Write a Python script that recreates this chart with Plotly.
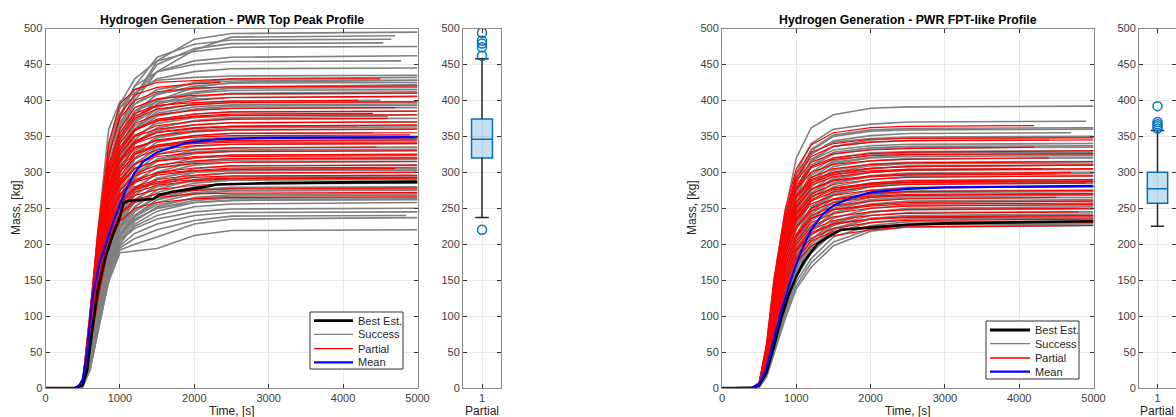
import plotly.graph_objects as go

W, H = 1176, 417
FONT = "Liberation Sans, Arial, sans-serif"

# ---------------- shared time grid for the individual runs ----------------
T = [0, 400, 500, 600, 700, 850, 1000, 1200, 1500, 2000, 2500, 5000]

# ---------------- Panel 1: PWR Top Peak Profile ----------------
P1_SUCCESS = [
    [0, 0, 6, 80, 190, 330, 390, 405, 455, 485, 493, 495],
    [0, 0, 8, 100, 215, 360, 398, 410, 440, 470, 488, 490],
    [0, 0, 5, 70, 170, 300, 380, 420, 460, 478, 484, 485],
    [0, 0, 4, 60, 150, 280, 360, 405, 450, 472, 479, 480],
    [0, 0, 7, 90, 200, 340, 395, 430, 455, 468, 474, 475],
    [0, 0, 3, 55, 140, 270, 345, 400, 440, 455, 460, 462],
    [0, 0, 5, 75, 170, 300, 375, 420, 440, 450, 454, 455],
    [0, 0, 4, 65, 160, 290, 365, 410, 430, 440, 444, 445],
    [0, 0, 6, 85, 185, 320, 390, 415, 428, 432, 434, 435],
    [0, 0, 3, 50, 130, 250, 330, 380, 410, 425, 430, 432],
    [0, 0, 5, 70, 165, 295, 360, 395, 415, 424, 427, 428],
    [0, 0, 4, 60, 150, 270, 340, 385, 408, 420, 424, 425],
    [0, 0, 7, 90, 190, 310, 370, 395, 410, 416, 419, 420],
    [0, 0, 3, 45, 120, 240, 315, 370, 400, 412, 417, 418],
    [0, 0, 5, 65, 155, 280, 345, 385, 402, 410, 414, 415],
    [0, 0, 4, 55, 140, 255, 325, 370, 395, 405, 409, 410],
    [0, 0, 6, 80, 175, 295, 355, 385, 398, 402, 404, 405],
    [0, 0, 3, 48, 125, 235, 310, 360, 385, 396, 399, 400],
    [0, 0, 5, 68, 150, 265, 330, 370, 388, 394, 397, 398],
    [0, 0, 4, 58, 138, 245, 315, 360, 382, 391, 394, 395],
    [0, 0, 6, 75, 160, 275, 330, 365, 380, 387, 389, 390],
    [0, 0, 3, 50, 128, 230, 300, 345, 372, 381, 384, 385],
    [0, 0, 5, 62, 145, 250, 310, 350, 368, 376, 379, 380],
    [0, 0, 4, 55, 132, 235, 300, 340, 362, 371, 374, 375],
    [0, 0, 6, 72, 155, 255, 305, 340, 358, 366, 369, 370],
    [0, 0, 3, 45, 118, 215, 280, 325, 350, 361, 364, 365],
    [0, 0, 5, 60, 140, 235, 290, 330, 348, 356, 359, 360],
    [0, 0, 4, 52, 125, 220, 280, 320, 342, 351, 354, 355],
    [0, 0, 3, 42, 110, 205, 265, 310, 335, 346, 349, 350],
    [0, 0, 5, 58, 132, 225, 275, 312, 332, 341, 344, 345],
    [0, 0, 4, 48, 118, 210, 262, 300, 325, 336, 339, 340],
    [0, 0, 3, 40, 105, 195, 250, 292, 318, 331, 334, 335],
    [0, 0, 5, 55, 125, 210, 258, 295, 315, 326, 329, 330],
    [0, 0, 4, 45, 112, 200, 248, 285, 308, 320, 324, 325],
    [0, 0, 3, 38, 100, 185, 238, 275, 300, 315, 319, 320],
    [0, 0, 5, 52, 118, 200, 245, 278, 298, 310, 314, 315],
    [0, 0, 4, 42, 105, 190, 235, 268, 290, 305, 309, 310],
    [0, 0, 3, 36, 95, 178, 226, 260, 284, 300, 304, 305],
    [0, 0, 4, 46, 108, 188, 232, 262, 282, 295, 299, 300],
    [0, 0, 3, 38, 98, 178, 222, 252, 276, 290, 294, 295],
    [0, 0, 4, 44, 104, 184, 225, 252, 272, 285, 289, 290],
    [0, 0, 3, 35, 92, 170, 215, 245, 266, 280, 284, 285],
    [0, 0, 2, 30, 85, 165, 212, 240, 262, 276, 279, 280],
    [0, 0, 3, 36, 94, 172, 215, 240, 258, 270, 274, 275],
    [0, 0, 2, 28, 80, 160, 205, 232, 252, 265, 269, 270],
    [0, 0, 3, 34, 90, 165, 210, 235, 250, 261, 264, 265],
    [0, 0, 2, 26, 78, 155, 200, 228, 246, 258, 261, 262],
    [0, 0, 2, 30, 84, 160, 205, 225, 240, 252, 256, 258],
    [0, 0, 3, 32, 88, 165, 205, 222, 235, 245, 249, 250],
    [0, 0, 2, 28, 80, 155, 198, 215, 228, 240, 244, 245],
    [0, 0, 2, 25, 75, 150, 195, 208, 220, 233, 239, 240],
    [0, 0, 3, 30, 82, 152, 192, 200, 210, 228, 235, 237],
    [0, 0, 2, 26, 78, 148, 188, 190, 194, 212, 219, 220],
    [0, 0, 4, 55, 135, 250, 320, 375, 400, 418, 425, 428],
    [0, 0, 3, 48, 125, 240, 310, 360, 390, 405, 410, 412],
    [0, 0, 5, 62, 145, 260, 320, 358, 378, 388, 392, 393],
    [0, 0, 4, 52, 130, 240, 300, 340, 362, 372, 376, 378],
    [0, 0, 3, 44, 115, 222, 285, 325, 348, 358, 362, 363],
    [0, 0, 4, 50, 122, 225, 280, 318, 336, 344, 347, 348],
    [0, 0, 3, 40, 108, 205, 260, 298, 318, 328, 331, 332],
    [0, 0, 4, 46, 112, 205, 255, 288, 306, 314, 317, 318],
    [0, 0, 3, 36, 98, 188, 240, 272, 292, 300, 302, 303],
    [0, 0, 3, 38, 100, 185, 232, 262, 280, 288, 290, 292],
    [0, 0, 2, 32, 90, 172, 220, 248, 266, 275, 278, 279],
    [0, 0, 2, 30, 86, 165, 212, 238, 255, 264, 267, 268],
    [0, 0, 3, 34, 92, 170, 212, 235, 250, 258, 261, 263],
    [0, 0, 2, 28, 82, 160, 208, 240, 262, 272, 275, 276],
    [0, 0, 5, 66, 150, 265, 330, 372, 395, 410, 418, 422],
]
P1_SUCCESS_END = {1: 4700, 2: 4650, 3: 4540, 6: 4780, 17: 4500, 27: 4400, 50: 4850, 56: 4600}

P1_PARTIAL = [
    [0, 0, 8, 105, 215, 340, 395, 415, 425, 428, 430, 430],
    [0, 0, 7, 95, 200, 320, 380, 408, 418, 423, 425, 425],
    [0, 0, 9, 110, 210, 325, 375, 400, 412, 417, 419, 420],
    [0, 0, 6, 88, 190, 305, 360, 390, 402, 407, 409, 410],
    [0, 0, 8, 100, 200, 310, 355, 382, 393, 397, 399, 400],
    [0, 0, 6, 85, 180, 290, 345, 375, 388, 394, 397, 398],
    [0, 0, 7, 92, 188, 295, 340, 368, 380, 386, 389, 390],
    [0, 0, 5, 80, 172, 280, 330, 360, 374, 381, 384, 385],
    [0, 0, 8, 98, 190, 290, 335, 360, 371, 377, 379, 380],
    [0, 0, 6, 85, 175, 280, 325, 352, 365, 371, 374, 375],
    [0, 0, 7, 90, 180, 282, 325, 350, 360, 366, 369, 370],
    [0, 0, 5, 78, 165, 268, 315, 342, 355, 361, 364, 365],
    [0, 0, 7, 88, 175, 275, 318, 340, 351, 357, 359, 360],
    [0, 0, 6, 82, 168, 265, 308, 333, 345, 351, 354, 355],
    [0, 0, 8, 95, 180, 275, 315, 335, 344, 349, 351, 352],
    [0, 0, 5, 76, 160, 255, 300, 325, 338, 345, 347, 348],
    [0, 0, 7, 86, 170, 265, 305, 328, 338, 342, 344, 345],
    [0, 0, 6, 80, 162, 255, 295, 320, 331, 337, 339, 340],
    [0, 0, 5, 72, 152, 245, 288, 312, 325, 332, 334, 335],
    [0, 0, 7, 84, 165, 252, 290, 312, 322, 327, 329, 330],
    [0, 0, 6, 76, 155, 242, 282, 305, 316, 322, 324, 325],
    [0, 0, 5, 70, 148, 235, 275, 298, 310, 316, 319, 320],
    [0, 0, 6, 78, 155, 238, 275, 295, 306, 312, 314, 315],
    [0, 0, 5, 68, 142, 228, 266, 288, 300, 306, 309, 310],
    [0, 0, 7, 80, 155, 235, 268, 286, 296, 302, 304, 305],
    [0, 0, 5, 66, 138, 220, 258, 280, 290, 296, 299, 300],
    [0, 0, 6, 72, 145, 225, 260, 278, 287, 293, 295, 296],
    [0, 0, 4, 62, 132, 212, 250, 272, 282, 288, 291, 292],
    [0, 0, 5, 66, 136, 215, 250, 268, 276, 282, 284, 285],
    [0, 0, 4, 58, 125, 205, 242, 262, 270, 275, 277, 278],
    [0, 0, 5, 62, 130, 208, 242, 258, 265, 270, 271, 272],
    [0, 0, 4, 55, 120, 198, 232, 250, 258, 263, 265, 266],
    [0, 0, 7, 92, 190, 300, 350, 378, 392, 400, 404, 406],
    [0, 0, 6, 84, 175, 280, 330, 358, 372, 378, 381, 382],
    [0, 0, 7, 86, 172, 272, 318, 344, 356, 362, 364, 366],
    [0, 0, 6, 80, 162, 258, 300, 325, 336, 340, 342, 342],
    [0, 0, 6, 76, 155, 246, 285, 306, 316, 320, 322, 323],
    [0, 0, 5, 70, 145, 232, 270, 290, 299, 303, 306, 307],
    [0, 0, 5, 64, 135, 216, 255, 276, 285, 290, 292, 293],
]
P1_PARTIAL_END = {0: 4500, 1: 2350, 4: 4200, 6: 4700, 9: 4600, 11: 4200, 14: 4900, 18: 4450, 24: 4700, 33: 4400}

P1_BEST_T = [0, 400, 500, 560, 620, 700, 800, 900, 1000, 1050, 1100, 1450, 1520, 1700, 2100, 2300, 3000, 4000, 5000]
P1_BEST_V = [0, 0, 4, 25, 75, 135, 180, 212, 238, 257, 260, 263, 268, 273, 279, 283, 285, 286, 287]

P1_MEAN_T = [0, 400, 450, 500, 560, 630, 720, 810, 900, 1000, 1100, 1200, 1314, 1500, 1900, 2300, 3000, 5000]
P1_MEAN_V = [0, 0, 3, 12, 50, 125, 172, 200, 228, 255, 280, 300, 315, 328, 341, 346, 348, 349]

P1_BOX = dict(q1=320, median=346, q3=374, low=237, high=458)
P1_OUTLIERS = [220, 462, 474, 479, 483, 494]

# ---------------- Panel 2: PWR FPT-like Profile ----------------
P2_SUCCESS = [
    [0, 0, 6, 60, 150, 245, 320, 362, 380, 389, 391, 392],
    [0, 0, 5, 52, 135, 235, 300, 340, 360, 367, 370, 371],
    [0, 0, 5, 50, 130, 228, 292, 332, 352, 359, 361, 362],
    [0, 0, 4, 46, 120, 220, 285, 325, 344, 351, 354, 355],
    [0, 0, 5, 48, 125, 222, 285, 326, 342, 347, 349, 350],
    [0, 0, 4, 44, 115, 212, 276, 318, 336, 342, 344, 345],
    [0, 0, 5, 46, 118, 214, 276, 316, 331, 337, 339, 340],
    [0, 0, 4, 42, 110, 204, 266, 308, 325, 332, 334, 335],
    [0, 0, 3, 38, 102, 195, 258, 300, 320, 327, 329, 330],
    [0, 0, 4, 40, 105, 196, 255, 296, 314, 321, 324, 325],
    [0, 0, 3, 35, 96, 185, 245, 288, 308, 316, 319, 320],
    [0, 0, 4, 38, 100, 188, 245, 284, 303, 311, 314, 315],
    [0, 0, 3, 33, 92, 176, 235, 275, 296, 305, 309, 310],
    [0, 0, 4, 36, 95, 178, 233, 271, 292, 300, 304, 305],
    [0, 0, 3, 31, 88, 168, 224, 264, 285, 295, 299, 300],
    [0, 0, 3, 33, 90, 168, 222, 260, 280, 290, 294, 295],
    [0, 0, 2, 29, 82, 160, 212, 252, 274, 285, 289, 290],
    [0, 0, 3, 31, 84, 160, 210, 248, 270, 280, 284, 285],
    [0, 0, 2, 27, 78, 152, 204, 242, 263, 275, 279, 280],
    [0, 0, 3, 30, 80, 152, 200, 238, 259, 270, 274, 275],
    [0, 0, 2, 26, 75, 146, 194, 232, 253, 265, 269, 270],
    [0, 0, 2, 28, 76, 143, 190, 226, 248, 260, 264, 265],
    [0, 0, 2, 25, 70, 136, 182, 218, 242, 255, 259, 260],
    [0, 0, 2, 26, 72, 134, 178, 212, 236, 250, 254, 255],
    [0, 0, 2, 23, 66, 128, 172, 205, 230, 245, 249, 250],
    [0, 0, 2, 24, 68, 125, 168, 200, 226, 240, 244, 245],
    [0, 0, 2, 21, 62, 118, 160, 193, 220, 235, 239, 240],
    [0, 0, 2, 22, 62, 115, 155, 188, 216, 230, 235, 236],
    [0, 0, 1, 19, 56, 108, 148, 180, 210, 226, 231, 232],
    [0, 0, 1, 17, 52, 102, 142, 174, 203, 221, 227, 228],
    [0, 0, 1, 15, 48, 96, 138, 168, 198, 218, 224, 226],
    [0, 0, 5, 50, 128, 224, 290, 330, 350, 357, 359, 360],
    [0, 0, 3, 36, 98, 190, 250, 292, 312, 320, 322, 323],
    [0, 0, 3, 32, 90, 172, 228, 268, 290, 300, 303, 304],
    [0, 0, 2, 28, 80, 155, 205, 245, 268, 280, 284, 286],
    [0, 0, 2, 24, 70, 140, 188, 225, 250, 262, 266, 268],
    [0, 0, 2, 22, 64, 124, 166, 200, 228, 244, 250, 252],
    [0, 0, 4, 42, 112, 205, 268, 310, 328, 334, 336, 337],
    [0, 0, 3, 38, 104, 196, 256, 296, 316, 324, 327, 328],
    [0, 0, 3, 34, 94, 182, 240, 280, 300, 309, 312, 313],
    [0, 0, 3, 32, 90, 170, 226, 265, 285, 294, 297, 298],
    [0, 0, 2, 28, 82, 158, 210, 250, 272, 282, 286, 288],
    [0, 0, 2, 26, 76, 148, 196, 235, 258, 268, 272, 273],
    [0, 0, 2, 24, 70, 138, 184, 220, 244, 256, 260, 262],
    [0, 0, 2, 22, 65, 128, 172, 206, 232, 245, 248, 249],
    [0, 0, 1, 20, 60, 120, 162, 196, 222, 236, 240, 242],
    [0, 0, 4, 44, 116, 210, 272, 316, 336, 345, 348, 349],
]
P2_SUCCESS_END = {1: 4900, 3: 4700, 5: 4400, 13: 4600, 24: 4800, 40: 4500}

P2_PARTIAL = [
    [0, 0, 8, 62, 152, 248, 305, 338, 355, 362, 364, 365],
    [0, 0, 7, 58, 145, 240, 298, 328, 340, 346, 347, 348],
    [0, 0, 6, 55, 140, 235, 292, 322, 336, 342, 344, 345],
    [0, 0, 7, 56, 140, 232, 288, 314, 326, 331, 333, 335],
    [0, 0, 6, 52, 134, 226, 282, 308, 320, 326, 328, 330],
    [0, 0, 7, 54, 134, 222, 276, 300, 311, 316, 318, 320],
    [0, 0, 5, 48, 126, 214, 268, 293, 305, 311, 313, 315],
    [0, 0, 6, 50, 128, 212, 264, 288, 299, 305, 308, 310],
    [0, 0, 5, 46, 122, 206, 258, 282, 294, 300, 303, 305],
    [0, 0, 6, 48, 122, 204, 253, 277, 289, 295, 298, 300],
    [0, 0, 5, 44, 115, 196, 245, 270, 283, 290, 293, 295],
    [0, 0, 6, 46, 118, 196, 242, 266, 278, 285, 288, 290],
    [0, 0, 4, 40, 108, 186, 234, 260, 273, 280, 283, 285],
    [0, 0, 5, 42, 110, 186, 232, 256, 268, 275, 278, 280],
    [0, 0, 4, 38, 104, 178, 224, 250, 263, 270, 273, 275],
    [0, 0, 5, 40, 106, 178, 222, 246, 258, 265, 268, 270],
    [0, 0, 4, 36, 98, 170, 214, 240, 253, 260, 263, 265],
    [0, 0, 5, 38, 100, 170, 212, 236, 248, 255, 258, 260],
    [0, 0, 4, 34, 92, 162, 204, 230, 243, 250, 253, 255],
    [0, 0, 4, 35, 94, 160, 200, 225, 238, 245, 248, 250],
    [0, 0, 3, 32, 88, 154, 194, 220, 233, 240, 243, 245],
    [0, 0, 4, 33, 88, 152, 190, 214, 228, 235, 238, 240],
    [0, 0, 3, 30, 82, 146, 184, 208, 222, 230, 233, 235],
    [0, 0, 3, 29, 80, 142, 180, 204, 218, 225, 228, 230],
    [0, 0, 3, 27, 76, 136, 174, 198, 212, 220, 224, 226],
    [0, 0, 6, 50, 130, 215, 266, 290, 300, 306, 308, 310],
    [0, 0, 5, 45, 118, 200, 250, 276, 288, 294, 296, 298],
    [0, 0, 4, 40, 108, 188, 236, 262, 276, 283, 286, 288],
    [0, 0, 6, 50, 128, 222, 278, 306, 318, 323, 325, 326],
    [0, 0, 5, 46, 120, 206, 258, 285, 297, 302, 304, 305],
    [0, 0, 5, 42, 112, 192, 240, 266, 278, 284, 286, 287],
    [0, 0, 4, 38, 104, 178, 224, 250, 262, 267, 269, 270],
    [0, 0, 4, 34, 96, 168, 210, 236, 248, 253, 256, 257],
    [0, 0, 3, 30, 86, 152, 192, 216, 229, 235, 237, 238],
]
P2_PARTIAL_END = {0: 4200, 3: 4200, 5: 4400, 9: 4700, 12: 4900, 16: 4500, 20: 4800, 29: 4300}

P2_BEST_T = [0, 400, 500, 600, 700, 800, 900, 1000, 1100, 1280, 1450, 1600, 2000, 2500, 3000, 4000, 5000]
P2_BEST_V = [0, 0, 4, 22, 58, 98, 130, 155, 175, 200, 212, 220, 223, 227, 229, 231, 232]

P2_MEAN_T = [0, 400, 500, 600, 700, 800, 900, 1000, 1100, 1200, 1350, 1500, 1750, 2000, 2500, 3000, 5000]
P2_MEAN_V = [0, 0, 5, 28, 68, 108, 142, 172, 198, 220, 241, 254, 265, 272, 277, 279, 281]

P2_BOX = dict(q1=257, median=277, q3=300, low=225, high=358)
P2_OUTLIERS = [361, 364, 367, 370, 392]

TITLES = ["Hydrogen Generation - PWR Top Peak Profile", "Hydrogen Generation - PWR FPT-like Profile"]
LEGEND_LABELS = ["Best Est.", "Success", "Partial", "Mean"]
X_TICKS = [0, 1000, 2000, 3000, 4000, 5000]
Y_TICKS = list(range(0, 501, 50))

GRAY, RED, BLACK, BLUE = "#808080", "#ff0000", "#000000", "#0000ff"
BOX_BLUE = "#0072BD"
LEG_STYLE = {"Best Est.": (BLACK, 2.8), "Success": (GRAY, 1.3), "Partial": (RED, 1.3), "Mean": (BLUE, 2.2)}


def px_x(p):
    return p / W


def px_y(p):
    return (H - p) / H


def join_curves(curves, ends):
    xs, ys = [], []
    for i, vals in enumerate(curves):
        end = ends.get(i, 5000)
        for t, v in zip(T, vals):
            if t < end:
                xs.append(t)
                ys.append(v)
        xs.append(end)
        ys.append(vals[-1])
        xs.append(None)
        ys.append(None)
    return xs, ys


fig = go.Figure()

panels = [
    dict(succ=P1_SUCCESS, succ_end=P1_SUCCESS_END, part=P1_PARTIAL, part_end=P1_PARTIAL_END,
         bt=P1_BEST_T, bv=P1_BEST_V, mt=P1_MEAN_T, mv=P1_MEAN_V, box=P1_BOX, out=P1_OUTLIERS,
         xa="x", ya="y", bxa="x2", bya="y2",
         leg_box=(310, 312, 403, 369), leg_rows=[320.7, 334.3, 348.7, 362.3], leg_line=(314, 353), leg_text=356),
    dict(succ=P2_SUCCESS, succ_end=P2_SUCCESS_END, part=P2_PARTIAL, part_end=P2_PARTIAL_END,
         bt=P2_BEST_T, bv=P2_BEST_V, mt=P2_MEAN_T, mv=P2_MEAN_V, box=P2_BOX, out=P2_OUTLIERS,
         xa="x3", ya="y3", bxa="x4", bya="y4",
         leg_box=(986, 321, 1079, 379), leg_rows=[330, 343.7, 358, 371.7], leg_line=(990, 1030), leg_text=1033),
]

shapes = []
ann = []

for p in panels:
    sx, sy = join_curves(p["succ"], p["succ_end"])
    fig.add_trace(go.Scatter(x=sx, y=sy, mode="lines", name="Success", line=dict(color=GRAY, width=1.6),
                             xaxis=p["xa"], yaxis=p["ya"], showlegend=False, hoverinfo="skip"))
    rx, ry = join_curves(p["part"], p["part_end"])
    fig.add_trace(go.Scatter(x=rx, y=ry, mode="lines", name="Partial", line=dict(color=RED, width=1.2),
                             xaxis=p["xa"], yaxis=p["ya"], showlegend=False, hoverinfo="skip"))
    fig.add_trace(go.Scatter(x=p["bt"], y=p["bv"], mode="lines", name="Best Est.", line=dict(color=BLACK, width=2.6),
                             xaxis=p["xa"], yaxis=p["ya"], showlegend=False))
    fig.add_trace(go.Scatter(x=p["mt"], y=p["mv"], mode="lines", name="Mean", line=dict(color=BLUE, width=2.2),
                             xaxis=p["xa"], yaxis=p["ya"], showlegend=False))
    b = p["box"]
    fig.add_trace(go.Scatter(x=[1, 1, None, 1, 1, None, 0.82, 1.18, None, 0.82, 1.18],
                             y=[b["low"], b["q1"], None, b["q3"], b["high"], None,
                                b["low"], b["low"], None, b["high"], b["high"]],
                             mode="lines", line=dict(color="#262626", width=1.5),
                             xaxis=p["bxa"], yaxis=p["bya"], showlegend=False, hoverinfo="skip"))
    fig.add_trace(go.Box(x=[1], q1=[b["q1"]], median=[b["median"]], q3=[b["q3"]],
                         lowerfence=[b["q1"]], upperfence=[b["q3"]], orientation="v",
                         width=0.55, whiskerwidth=0, boxpoints=False,
                         fillcolor="rgba(0,114,189,0.22)", line=dict(color=BOX_BLUE, width=1.5),
                         xaxis=p["bxa"], yaxis=p["bya"], showlegend=False))
    fig.add_trace(go.Scatter(x=[1] * len(p["out"]), y=p["out"], mode="markers",
                             marker=dict(symbol="circle-open", size=9, color=BOX_BLUE, line=dict(width=1.5)),
                             xaxis=p["bxa"], yaxis=p["bya"], showlegend=False))

    # legend frame with sample lines and labels
    x0, y0, x1, y1 = p["leg_box"]
    shapes.append(dict(type="rect", xref="paper", yref="paper", x0=px_x(x0), x1=px_x(x1),
                       y0=px_y(y1), y1=px_y(y0), line=dict(color="#333333", width=1), fillcolor="white",
                       layer="above"))
    lx0, lx1 = p["leg_line"]
    for lab, ry_ in zip(LEGEND_LABELS, p["leg_rows"]):
        col, wd = LEG_STYLE[lab]
        shapes.append(dict(type="line", xref="paper", yref="paper", x0=px_x(lx0), x1=px_x(lx1),
                           y0=px_y(ry_), y1=px_y(ry_), line=dict(color=col, width=wd), layer="above"))
        ann.append(dict(text=lab, x=px_x(p["leg_text"]), y=px_y(ry_), xref="paper", yref="paper",
                        showarrow=False, xanchor="left", yanchor="middle",
                        font=dict(size=11, color="#262626", family=FONT)))

ax_common = dict(showline=True, linecolor="#8a8a8a", linewidth=1, mirror="ticks", ticks="inside",
                 ticklen=4, tickcolor="#333333", showgrid=True, gridcolor="#e8e8e8", gridwidth=1,
                 zeroline=False, automargin=False,
                 tickfont=dict(size=11, color="#404040", family=FONT), layer="above traces")

YDOM = [px_y(388), px_y(28.5)]
main_x = dict(range=[0, 5000], tickvals=X_TICKS, ticktext=[str(v) for v in X_TICKS], **ax_common)
main_y = dict(range=[0, 500], tickvals=Y_TICKS, domain=YDOM, **ax_common)
box_x = dict(range=[0.5, 1.5], tickvals=[1], ticktext=["1"], **ax_common)

fig.update_layout(
    width=W, height=H, margin=dict(l=0, r=0, t=0, b=0, pad=0, autoexpand=False),
    paper_bgcolor="white", plot_bgcolor="white", showlegend=False,
    font=dict(family=FONT, size=11, color="#262626"),
    xaxis=dict(domain=[px_x(45.5), px_x(417.5)], anchor="y", **main_x),
    yaxis=dict(anchor="x", **main_y),
    xaxis2=dict(domain=[px_x(463), px_x(501)], anchor="y2", **box_x),
    yaxis2=dict(anchor="x2", **main_y),
    xaxis3=dict(domain=[px_x(722), px_x(1093.5)], anchor="y3", **main_x),
    yaxis3=dict(anchor="x3", **main_y),
    xaxis4=dict(domain=[px_x(1139), 1.0], anchor="y4", **box_x),
    yaxis4=dict(anchor="x4", **main_y),
)

for title, cx, ylx in [(TITLES[0], (45.5 + 417.5) / 2, 16), (TITLES[1], (722 + 1093.5) / 2, 692)]:
    ann.append(dict(text="<b>" + title + "</b>", x=px_x(cx), y=px_y(20), xref="paper", yref="paper",
                    showarrow=False, xanchor="center", yanchor="middle",
                    font=dict(size=12.3, color="#000000", family=FONT)))
    ann.append(dict(text="Time, [s]", x=px_x(cx), y=px_y(410.5), xref="paper", yref="paper",
                    showarrow=False, xanchor="center", yanchor="middle", font=dict(size=12, color="#262626")))
    ann.append(dict(text="Mass, [kg]", x=px_x(ylx), y=px_y(208), xref="paper", yref="paper",
                    showarrow=False, xanchor="center", yanchor="middle", textangle=-90,
                    font=dict(size=12, color="#262626")))
for cx in [482, 1157]:
    ann.append(dict(text="Partial", x=px_x(cx), y=px_y(410.5), xref="paper", yref="paper",
                    showarrow=False, xanchor="center", yanchor="middle", font=dict(size=12, color="#262626")))
fig.update_layout(annotations=ann, shapes=shapes)

fig.write_html("out.html")
